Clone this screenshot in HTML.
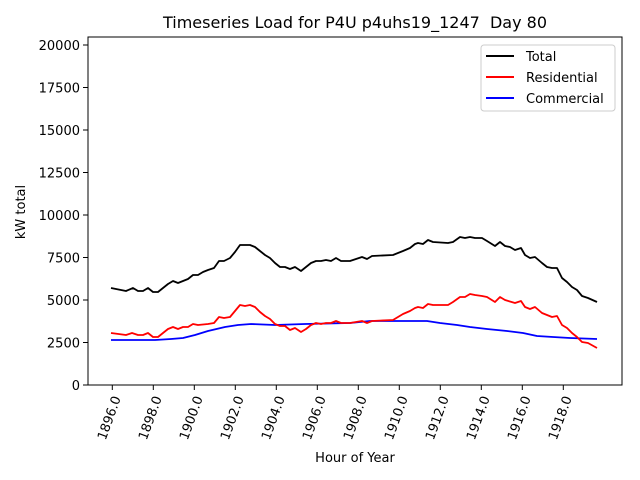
<!DOCTYPE html>
<html><head><meta charset="utf-8"><style>
html,body{margin:0;padding:0;background:#fff;}
svg{display:block;font-family:"DejaVu Sans","Liberation Sans",sans-serif;}
</style></head><body>
<svg width="640" height="480" viewBox="0 0 640 480">
<rect width="640" height="480" fill="#fff"/>
<text x="355" y="28" font-size="16" text-anchor="middle" fill="#000">Timeseries Load for P4U p4uhs19_1247 &#160;Day 80</text>
<g stroke="#000" stroke-width="1">
<line x1="88" y1="385" x2="83" y2="385"/><line x1="88" y1="342.5" x2="83" y2="342.5"/><line x1="88" y1="300" x2="83" y2="300"/><line x1="88" y1="257.5" x2="83" y2="257.5"/><line x1="88" y1="215" x2="83" y2="215"/><line x1="88" y1="172.5" x2="83" y2="172.5"/><line x1="88" y1="130" x2="83" y2="130"/><line x1="88" y1="87.5" x2="83" y2="87.5"/><line x1="88" y1="45" x2="83" y2="45"/>
</g>
<g font-size="13" text-anchor="end" fill="#000">
<text x="80" y="390">0</text><text x="80" y="347.5">2500</text><text x="80" y="305">5000</text><text x="80" y="262.5">7500</text><text x="80" y="220">10000</text><text x="80" y="177.5">12500</text><text x="80" y="135">15000</text><text x="80" y="92.5">17500</text><text x="80" y="50">20000</text>
</g>
<g stroke="#000" stroke-width="1">
<line x1="112.3" y1="385" x2="112.3" y2="390"/><line x1="153.3" y1="385" x2="153.3" y2="390"/><line x1="194.3" y1="385" x2="194.3" y2="390"/><line x1="235.3" y1="385" x2="235.3" y2="390"/><line x1="276.3" y1="385" x2="276.3" y2="390"/><line x1="317.3" y1="385" x2="317.3" y2="390"/><line x1="358.3" y1="385" x2="358.3" y2="390"/><line x1="399.3" y1="385" x2="399.3" y2="390"/><line x1="440.3" y1="385" x2="440.3" y2="390"/><line x1="481.3" y1="385" x2="481.3" y2="390"/><line x1="522.3" y1="385" x2="522.3" y2="390"/><line x1="563.3" y1="385" x2="563.3" y2="390"/>
</g>
<g font-size="13" text-anchor="end" fill="#000">
<text transform="translate(121,398) rotate(-70)">1896.0</text>
<text transform="translate(162,398) rotate(-70)">1898.0</text>
<text transform="translate(203,398) rotate(-70)">1900.0</text>
<text transform="translate(244,398) rotate(-70)">1902.0</text>
<text transform="translate(285,398) rotate(-70)">1904.0</text>
<text transform="translate(326,398) rotate(-70)">1906.0</text>
<text transform="translate(367,398) rotate(-70)">1908.0</text>
<text transform="translate(408,398) rotate(-70)">1910.0</text>
<text transform="translate(449,398) rotate(-70)">1912.0</text>
<text transform="translate(490,398) rotate(-70)">1914.0</text>
<text transform="translate(531,398) rotate(-70)">1916.0</text>
<text transform="translate(572,398) rotate(-70)">1918.0</text>
</g>
<text x="355" y="462" font-size="13" text-anchor="middle">Hour of Year</text>
<text transform="translate(25,212) rotate(-90)" font-size="13" text-anchor="middle">kW total</text>
<g fill="none" stroke-width="1.8" stroke-linejoin="round">
<polyline stroke="#0000ff" points="111,340 155,340 171,339 183,338 195,335 208,331 225,327 238,325 251,324 275,325 305,324 350,323 370,321 427,321 440,323 457,325 470,327 487,329 507,331 523,333 537,336 553,337 570,338 597,339"/>
<polyline stroke="#ff0000" points="111,333 126,335 132,333 138,335 143,335 148,333 153,337 158,337 163,333 168,329 173,327 178,329 183,327 188,327 193,324 198,325 208,324 214,323 219,317 224,318 230,317 235,311 240,305 245,306 250,305 255,307 260,312 265,316 270,319 275,324 280,326 285,326 290,330 295,328 301,332 306,329 311,325 316,323 321,324 326,323 331,323 336,321 341,323 346,323 350,323 362,321 367,323 372,321 393,320 403,314 410,311 415,308 418,307 423,308 428,304 433,305 448,305 453,302 460,297 465,297 470,294 475,295 482,296 487,297 495,302 500,297 505,300 515,303 521,301 525,307 530,309 535,307 542,313 547,315 552,317 557,316 562,325 567,328 572,333 577,337 582,342 588,343 597,348"/>
<polyline stroke="#000000" points="111,288 126,291 133,288 138,291 143,291 148,288 153,292 158,292 163,288 168,284 173,281 178,283 183,281 188,279 193,275 198,275 203,272 208,270 214,268 219,261 224,261 230,258 235,252 240,245 245,245 250,245 255,247 260,251 265,255 270,258 275,263 280,267 285,267 290,269 295,267 301,271 306,267 311,263 316,261 321,261 326,260 331,261 336,258 341,261 346,261 350,261 362,257 367,259 372,256 393,255 403,251 410,248 415,244 418,243 423,244 428,240 433,242 448,243 453,242 460,237 465,238 470,237 475,238 482,238 487,241 495,246 500,242 505,246 510,247 515,250 521,248 525,255 530,258 535,257 542,263 547,267 552,268 557,268 562,278 567,282 572,287 577,290 582,296 588,298 597,302"/>
</g>
<rect x="88" y="37" width="534" height="348" fill="none" stroke="#000" stroke-width="1"/>
<rect x="481" y="45" width="134" height="66" rx="3" fill="#fff" fill-opacity="0.8" stroke="#ccc" stroke-width="1"/>
<g stroke-width="2">
<line x1="486" y1="56" x2="514" y2="56" stroke="#000"/>
<line x1="486" y1="77" x2="514" y2="77" stroke="#f00"/>
<line x1="486" y1="98" x2="514" y2="98" stroke="#00f"/>
</g>
<g font-size="13" fill="#000">
<text x="526" y="61">Total</text>
<text x="526" y="82">Residential</text>
<text x="526" y="103">Commercial</text>
</g>
</svg>
</body></html>
